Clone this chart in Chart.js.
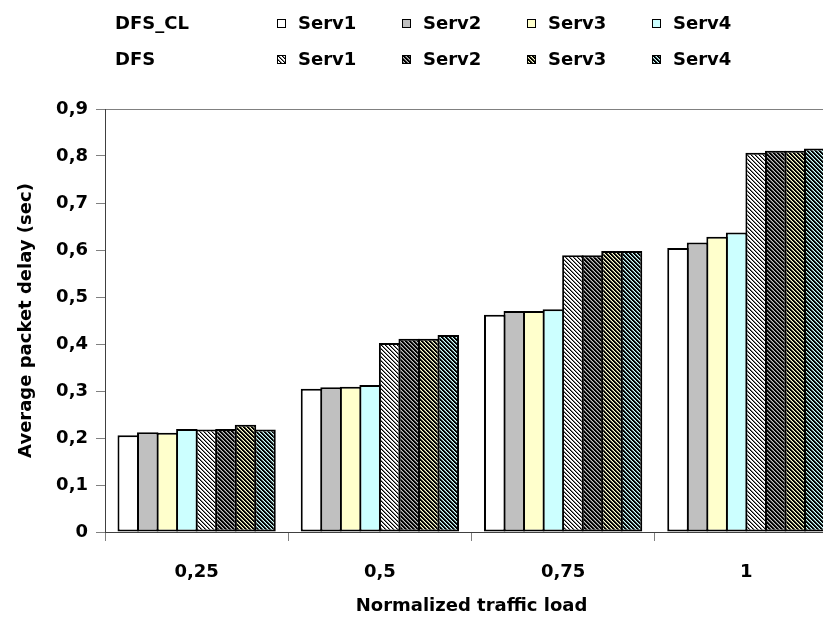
<!DOCTYPE html>
<html>
<head>
<meta charset="utf-8">
<title>Average packet delay</title>
<script src="https://cdn.jsdelivr.net/npm/chart.js@4"></script>
<style>
  body { margin: 0; padding: 0; overflow: hidden; background: #fff; }
  #wrap { position: absolute; left: 0; top: 0; width: 840px; height: 617px; }
  #legend { position: absolute; left: 0; top: 0; width: 823px; height: 80px;
            font-family: "DejaVu Sans", sans-serif; font-weight: bold; font-size: 18px; color: #000; }
  .row { position: absolute; left: 0; width: 823px; height: 22px; line-height: 22px; }
  .name { position: absolute; left: 115px; top: 0; }
  .item { position: absolute; top: 0; white-space: nowrap; }
  .item canvas { position: absolute; left: 0; top: 7px; }
  .item span { position: absolute; left: 21px; top: 0; }
</style>
</head>
<body>
<div id="wrap"><canvas id="chart" width="840" height="617"></canvas></div>
<div id="legend">
  <div class="row" style="top:12px"><span class="name">DFS_CL</span></div>
  <div class="row" style="top:48px"><span class="name">DFS</span></div>
</div>
<script>
// data
const categories = ['0,25', '0,5', '0,75', '1'];
const servers = ['Serv1', 'Serv2', 'Serv3', 'Serv4'];
const yTickLabels = ['0', '0,1', '0,2', '0,3', '0,4', '0,5', '0,6', '0,7', '0,8', '0,9'];

const dfsClServ1 = [0.206, 0.305, 0.462, 0.604];
const dfsClServ2 = [0.212, 0.308, 0.470, 0.616];
const dfsClServ3 = [0.211, 0.309, 0.470, 0.628];
const dfsClServ4 = [0.219, 0.313, 0.474, 0.637];
const dfsServ1 = [0.218, 0.402, 0.589, 0.807];
const dfsServ2 = [0.219, 0.411, 0.589, 0.811];
const dfsServ3 = [0.228, 0.411, 0.598, 0.811];
const dfsServ4 = [0.218, 0.419, 0.598, 0.816];

const fills = ['#ffffff', '#c0c0c0', '#ffffcc', '#ccffff'];
const stripeMid = ['#808080', '#606060', '#80806a', '#6a8080'];

// diagonal hatch (\) : mostly black stripes over the server colour
function hatch(ctx, i) {
    const c = document.createElement('canvas');
    c.width = 4; c.height = 4;
    const g = c.getContext('2d');
    const cols = i === 0
        ? ['#000', stripeMid[0], fills[0], fills[0]]
        : ['#000', '#000', stripeMid[i], fills[i]];
    for (let y = 0; y < 4; y++) {
        for (let k = 0; k < 4; k++) {
            g.fillStyle = cols[k];
            g.fillRect((y + k) % 4, y, 1, 1);
        }
    }
    return ctx.createPattern(c, 'repeat');
}

const canvas = document.getElementById('chart');
const ctx = canvas.getContext('2d');

const clSeries = [dfsClServ1, dfsClServ2, dfsClServ3, dfsClServ4];
const dfsSeries = [dfsServ1, dfsServ2, dfsServ3, dfsServ4];

const datasets = [];
clSeries.forEach((d, i) => {
    datasets.push({ label: 'DFS_CL ' + servers[i], data: d, backgroundColor: fills[i] });
});
dfsSeries.forEach((d, i) => {
    datasets.push({ label: 'DFS ' + servers[i], data: d, backgroundColor: hatch(ctx, i) });
});
datasets.forEach(ds => {
    ds.borderColor = '#000';
    ds.borderWidth = 2;
    ds.borderSkipped = false;
    ds.categoryPercentage = 0.853;
    ds.barPercentage = 1.1;
});

// legend
const rows = document.querySelectorAll('#legend .row');
const itemX = [277, 402, 527, 652];
[0, 1].forEach(r => {
    servers.forEach((s, i) => {
        const item = document.createElement('div');
        item.className = 'item';
        item.style.left = itemX[i] + 'px';
        const sw = document.createElement('canvas');
        sw.width = 9; sw.height = 9;
        const sctx = sw.getContext('2d');
        sctx.fillStyle = r === 0 ? fills[i] : hatch(sctx, i);
        sctx.fillRect(0, 0, 9, 9);
        sctx.strokeStyle = '#000';
        sctx.lineWidth = 1;
        sctx.strokeRect(0.5, 0.5, 8, 8);
        const t = document.createElement('span');
        t.textContent = s;
        item.appendChild(sw);
        item.appendChild(t);
        rows[r].appendChild(item);
    });
});

const font = { family: 'DejaVu Sans', size: 18, weight: 'bold' };
Chart.defaults.color = '#000';

new Chart(ctx, {
    type: 'bar',
    data: { labels: categories, datasets: datasets },
    options: {
        responsive: false,
        animation: false,
        layout: { padding: { left: 10, top: 109, right: 2, bottom: 0 } },
        plugins: { legend: { display: false }, tooltip: { enabled: false } },
        scales: {
            x: {
                grid: { offset: true, drawOnChartArea: false, tickLength: 9, tickColor: '#808080' },
                border: { color: '#404040', width: 1 },
                ticks: { color: '#000', font: font, padding: 21 },
                title: { display: true, text: 'Normalized traffic load', color: '#000', font: font, padding: { top: 0, bottom: 0 } },
                afterFit: s => { s.height = 85; }
            },
            y: {
                min: 0,
                max: 0.9,
                ticks: { stepSize: 0.1, color: '#000', font: font, padding: 8,
                         callback: (v, i) => yTickLabels[i] },
                grid: { color: c => (c.tick && c.tick.value > 0.85) ? '#808080' : 'rgba(0,0,0,0)',
                        tickColor: '#808080', tickLength: 9 },
                border: { color: '#404040', width: 1 },
                title: { display: true, text: 'Average packet delay (sec)', color: '#000', font: font, padding: { top: 6, bottom: 0 } },
                afterFit: s => { s.width = 95; }
            }
        }
    }
});
</script>
</body>
</html>
